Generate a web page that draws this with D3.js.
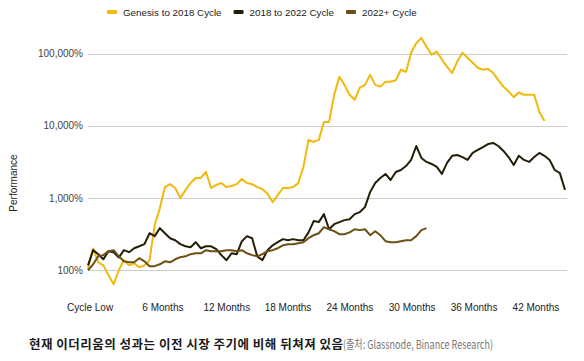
<!DOCTYPE html>
<html>
<head>
<meta charset="utf-8">
<script src="https://cdn.jsdelivr.net/npm/d3@7"></script>
<style>
  body { margin: 0; background: #fff; }
  svg { display: block; }
  text { font-family: "Liberation Sans", Arial, sans-serif; }
</style>
</head>
<body>
<div id="chart"></div>
<script>
// one value every 15 days, in % of the cycle low
const stepDays = 15;

const genesisCycle = [
  105, 200, 129, 117, 85, 64, 100, 138, 117, 125,
  110, 117, 138, 420, 725, 1420, 1560, 1380, 1000, 1290,
  1620, 1900, 1900, 2300, 1380, 1520, 1620, 1420, 1470, 1560,
  1840, 1620, 1560, 1420, 1330, 1150, 880, 1100, 1380, 1380,
  1420, 1620, 2700, 6400, 6000, 6400, 11300, 11300, 27000, 48000,
  37000, 27000, 23000, 34000, 37000, 51000, 37000, 35000, 41000, 41000,
  43000, 60000, 56000, 103000, 140000, 165000, 125000, 97000, 107000, 83000,
  66000, 54000, 78000, 103000, 88000, 75000, 64000, 60000, 62000, 54000,
  43000, 35000, 30000, 25000, 29000, 27000, 27000, 27000, 15600, 11700
];

const cycle2018 = [
  117, 190, 167, 142, 184, 178, 150, 190, 178, 202,
  215, 230, 326, 297, 383, 326, 278, 261, 230, 215,
  209, 245, 202, 215, 215, 196, 162, 138, 172, 167,
  253, 297, 278, 156, 138, 190, 222, 245, 270, 261,
  270, 261, 261, 335, 480, 465, 600, 370, 435, 465,
  495, 510, 600, 640, 750, 1210, 1620, 1900, 2160, 1780,
  2300, 2450, 2780, 3380, 5270, 3600, 3170, 2970, 2700, 2160,
  3070, 3850, 3950, 3700, 3380, 4220, 4640, 5100, 5600, 5800,
  5270, 4500, 3700, 2870, 3850, 3380, 3170, 3700, 4220, 3850,
  3380, 2450, 2220, 1300
];

const cycle2022 = [
  100, 121, 156, 162, 184, 190, 156, 133, 129, 129,
  147, 133, 114, 114, 121, 133, 129, 142, 152, 156,
  167, 172, 172, 190, 184, 184, 184, 190, 190, 184,
  190, 172, 162, 156, 167, 184, 190, 202, 222, 230,
  230, 237, 245, 278, 306, 326, 395, 370, 348, 316,
  316, 335, 370, 360, 370, 306, 348, 306, 253, 245,
  245, 253, 261, 261, 297, 360, 383
];

const seriesNames = ['Genesis to 2018 Cycle', '2018 to 2022 Cycle', '2022+ Cycle'];
const seriesColors = ['#F0B90B', '#241E08', '#6B5012'];

const xTickLabels = ['Cycle Low', '6 Months', '12 Months', '18 Months', '24 Months', '30 Months', '36 Months', '42 Months'];
const xTickDays = [6, 219, 406, 585, 766, 948, 1129, 1310];
const yTicks = [100, 1000, 10000, 100000];

const width = 584, height = 361;

const svg = d3.select('#chart').append('svg')
  .attr('width', width)
  .attr('height', height);

const x = d3.scaleLinear().domain([0, 1395]).range([88, 565]);
const y = d3.scaleLog().domain([50, 200000]).range([292, 32]);

// gridlines + y labels
svg.append('g')
  .selectAll('line')
  .data(yTicks)
  .enter()
  .append('line')
  .attr('x1', 88).attr('x2', 567)
  .attr('y1', d => Math.round(y(d)) + 0.5)
  .attr('y2', d => Math.round(y(d)) + 0.5)
  .attr('stroke', '#cccccc');

svg.append('g')
  .selectAll('text')
  .data(yTicks)
  .enter()
  .append('text')
  .attr('x', 83)
  .attr('y', d => y(d) + 3.5)
  .attr('text-anchor', 'end')
  .attr('font-size', 10)
  .attr('fill', '#444')
  .text(d => d3.format(',')(d) + '%');

svg.append('text')
  .attr('transform', 'translate(17,183) rotate(-90)')
  .attr('text-anchor', 'middle')
  .attr('font-size', 10)
  .attr('fill', '#222')
  .text('Performance');

// x labels
svg.append('g')
  .selectAll('text')
  .data(xTickLabels)
  .enter()
  .append('text')
  .attr('x', (d, i) => x(xTickDays[i]))
  .attr('y', 311)
  .attr('text-anchor', 'middle')
  .attr('font-size', 10)
  .attr('fill', '#222')
  .text(d => d);

// lines
const line = d3.line()
  .x((d, i) => x(i * stepDays))
  .y(d => y(d));

[genesisCycle, cycle2018, cycle2022].forEach((s, k) => {
  svg.append('path')
    .datum(s)
    .attr('d', line)
    .attr('fill', 'none')
    .attr('stroke', seriesColors[k])
    .attr('stroke-width', 2)
    .attr('stroke-linejoin', 'round');
});

// legend
const legend = svg.append('g');
let lx = 107;
seriesNames.forEach((name, k) => {
  legend.append('rect')
    .attr('x', lx).attr('y', 10)
    .attr('width', 10).attr('height', 4)
    .attr('rx', 1)
    .attr('fill', seriesColors[k]);
  const t = legend.append('text')
    .attr('x', lx + 16)
    .attr('y', 15.5)
    .attr('font-size', 9.8)
    .attr('fill', '#222')
    .text(name);
  lx += 16 + t.node().getComputedTextLength() + 12;
});

// caption: bold part ~314px wide, source part ~150px
const capFont = '"Noto Sans CJK KR", "Noto Sans", sans-serif';
svg.append('text')
  .attr('x', 29)
  .attr('y', 349)
  .attr('font-size', 12.5)
  .attr('font-weight', 'bold')
  .attr('fill', '#1a1a1a')
  .attr('textLength', 314)
  .attr('lengthAdjust', 'spacing')
  .style('font-family', capFont)
  .text('현재 이더리움의 성과는 이전 시장 주기에 비해 뒤쳐져 있음');
svg.append('text')
  .attr('x', 343)
  .attr('y', 349)
  .attr('font-size', 12)
  .attr('fill', '#777')
  .attr('textLength', 150)
  .attr('lengthAdjust', 'spacingAndGlyphs')
  .style('font-family', capFont)
  .text('(출처: Glassnode, Binance Research)');
</script>
</body>
</html>
